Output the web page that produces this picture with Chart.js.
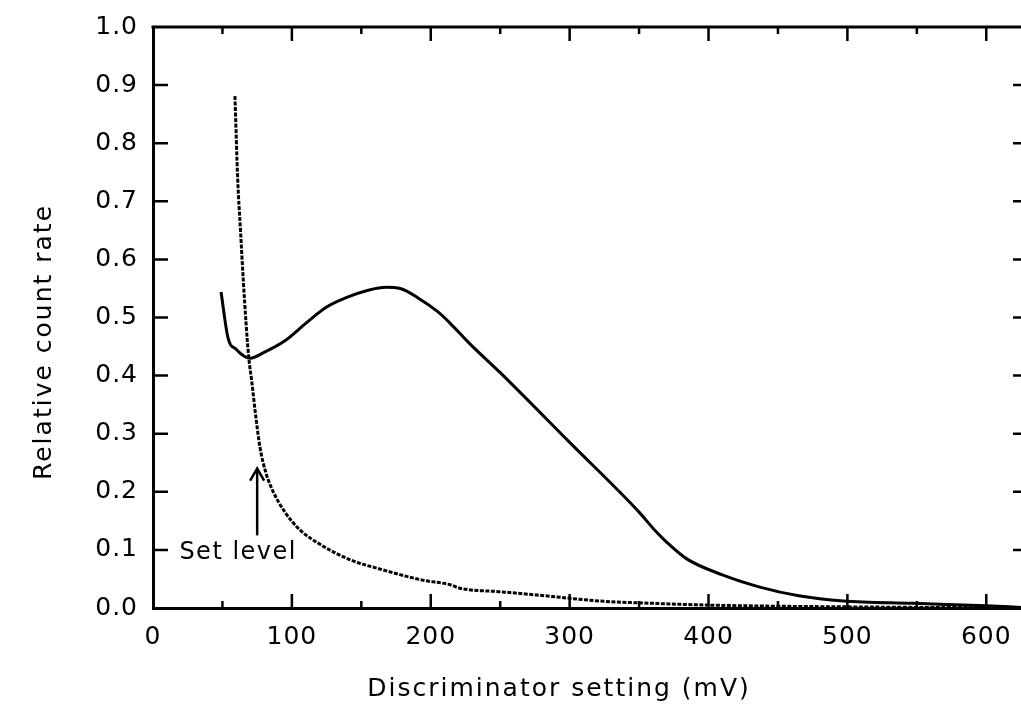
<!DOCTYPE html>
<html><head><meta charset="utf-8">
<script src="https://cdn.jsdelivr.net/npm/chart.js@4/dist/chart.umd.min.js"></script>
<style>html,body{margin:0;padding:0;background:#fff;overflow:hidden}canvas{display:block}</style>
</head><body>
<canvas id="c" width="1021" height="706"></canvas>
<script>
// ---- data ----
const xTitle = 'Discriminator setting (mV)';
const yTitle = 'Relative count rate';
const xMin = 0, xMax = 625, xStep = 50, xLabelEvery = 100;
const yMin = 0, yMax = 1.0, yStep = 0.1;

// solid curve (pulse-height peak)
const peakX = [49, 54, 60, 66, 70, 80, 95, 110, 125, 140, 155, 168, 178, 192, 205, 214, 228, 250, 300, 350, 362, 370, 384, 410, 437, 465, 497, 547, 600, 625];
const peakY = [0.544, 0.465, 0.445, 0.433, 0.430, 0.440, 0.460, 0.490, 0.518, 0.535, 0.547, 0.552, 0.550, 0.532, 0.510, 0.490, 0.455, 0.405, 0.285, 0.165, 0.132, 0.113, 0.085, 0.057, 0.036, 0.021, 0.012, 0.008, 0.004, 0.001];

// dotted curve (steep noise curve)
const noiseX = [59, 61, 63, 65, 67, 69, 71, 74, 77, 81, 86, 95, 106, 120, 142, 165, 194, 214, 221, 250, 278, 322, 360, 400, 450, 500, 550, 600, 625];
const noiseY = [0.881, 0.737, 0.650, 0.565, 0.490, 0.430, 0.392, 0.330, 0.277, 0.235, 0.203, 0.165, 0.134, 0.110, 0.083, 0.066, 0.048, 0.040, 0.034, 0.028, 0.022, 0.012, 0.008, 0.005, 0.003, 0.002, 0.001, 0.0005, 0.0];

const noteText = 'Set level';
const noteX = 19, noteY = 0.095;
const arrowX = 75, arrowFromY = 0.125, arrowToY = 0.240;

// ---- chart ----
const FONT = 'DejaVu Sans';
const toPts = (xs, ys) => xs.map((x, i) => ({x: x, y: ys[i]}));

const framePlugin = {
  id: 'frame',
  beforeLayout(chart) { chart.ctx.letterSpacing = '1px'; },
  beforeDraw(chart) { chart.ctx.letterSpacing = '1px'; },
  afterDraw(chart) {
    const ctx = chart.ctx, a = chart.chartArea;
    const xs = chart.scales.x, ys = chart.scales.y;
    ctx.save();
    ctx.strokeStyle = '#000';
    ctx.lineCap = 'butt';
    // top frame line
    ctx.lineWidth = 3;
    ctx.beginPath(); ctx.moveTo(a.left - 1.5, a.top); ctx.lineTo(a.right, a.top); ctx.stroke();
    // inward ticks on x (bottom and top)
    ctx.lineWidth = 2.5;
    xs.ticks.forEach(t => {
      const px = xs.getPixelForValue(t.value);
      if (t.value === xMin) return;
      const len = (t.value % xLabelEvery === 0) ? 14 : 7;
      ctx.beginPath();
      ctx.moveTo(px, a.bottom); ctx.lineTo(px, a.bottom - len);
      ctx.moveTo(px, a.top); ctx.lineTo(px, a.top + len);
      ctx.stroke();
    });
    // inward ticks on y (left, and right edge)
    ys.ticks.forEach(t => {
      const py = ys.getPixelForValue(t.value);
      if (t.value === yMin || Math.abs(t.value - yMax) < 1e-9) return;
      ctx.beginPath();
      ctx.moveTo(a.left, py); ctx.lineTo(a.left + 15, py);
      ctx.moveTo(a.right, py); ctx.lineTo(a.right - 8, py);
      ctx.stroke();
    });
    // annotation arrow
    const ax = xs.getPixelForValue(arrowX);
    const ay0 = ys.getPixelForValue(arrowFromY), ay1 = ys.getPixelForValue(arrowToY);
    ctx.lineWidth = 2.5;
    ctx.beginPath(); ctx.moveTo(ax, ay0); ctx.lineTo(ax, ay1); ctx.stroke();
    ctx.beginPath(); ctx.moveTo(ax - 7, ay1 + 12); ctx.lineTo(ax, ay1); ctx.lineTo(ax + 7, ay1 + 12); ctx.stroke();
    ctx.fillStyle = '#000';
    // annotation text
    ctx.letterSpacing = '1.5px';
    ctx.font = '24px "' + FONT + '"';
    ctx.textAlign = 'left'; ctx.textBaseline = 'middle';
    ctx.fillText(noteText, xs.getPixelForValue(noteX), ys.getPixelForValue(noteY));
    // axis titles
    ctx.letterSpacing = '2px';
    ctx.font = '25px "' + FONT + '"';
    ctx.textAlign = 'center'; ctx.textBaseline = 'middle';
    ctx.fillText(xTitle, 559, 689);
    ctx.save();
    ctx.translate(44, 342);
    ctx.rotate(-Math.PI / 2);
    ctx.fillText(yTitle, 0, 0);
    ctx.restore();
    ctx.restore();
  }
};

new Chart(document.getElementById('c'), {
  type: 'scatter',
  data: {
    datasets: [
      {
        label: 'peak',
        data: toPts(peakX, peakY),
        showLine: true,
        borderColor: '#000',
        borderWidth: 3,
        pointRadius: 0,
        cubicInterpolationMode: 'monotone',
        fill: false
      },
      {
        label: 'noise',
        data: toPts(noiseX, noiseY),
        showLine: true,
        borderColor: '#000',
        borderWidth: 3,
        borderDash: [4, 1.5],
        pointRadius: 0,
        cubicInterpolationMode: 'monotone',
        fill: false
      }
    ]
  },
  options: {
    responsive: false,
    animation: false,
    devicePixelRatio: 1,
    layout: {padding: {top: 27, right: 0, bottom: 0, left: 0}},
    plugins: {legend: {display: false}, tooltip: {enabled: false}},
    scales: {
      x: {
        type: 'linear', position: 'bottom', min: xMin, max: xMax,
        border: {display: true, width: 3, color: '#000'},
        grid: {display: false, drawTicks: true, tickLength: 14},
        ticks: {
          stepSize: xStep, includeBounds: false, autoSkip: false, maxRotation: 0, padding: 0,
          color: '#000', font: {family: FONT, size: 25},
          callback: v => (v % xLabelEvery === 0 ? String(v) : '')
        },
        title: {display: false, text: xTitle},
        afterFit: s => { s.height = 98; }
      },
      y: {
        type: 'linear', position: 'left', min: yMin, max: yMax,
        border: {display: true, width: 3, color: '#000'},
        grid: {display: false, drawTicks: true, tickLength: 15},
        ticks: {
          stepSize: yStep, autoSkip: false, padding: 0,
          color: '#000', font: {family: FONT, size: 25},
          callback: v => Number(v).toFixed(1)
        },
        title: {display: false, text: yTitle},
        afterFit: s => { s.width = 153; }
      }
    }
  },
  plugins: [framePlugin]
});
</script>
</body></html>
